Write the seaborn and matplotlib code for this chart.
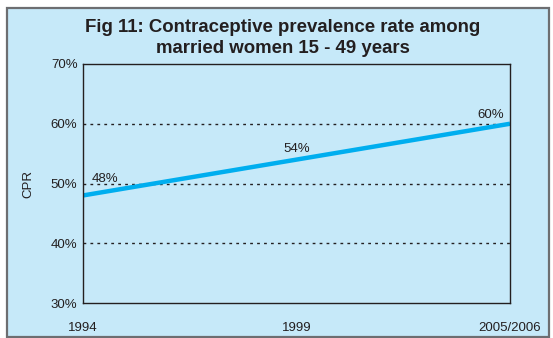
import matplotlib
matplotlib.use("Agg")
import matplotlib.pyplot as plt
import seaborn as sns
import pandas as pd
from matplotlib.patches import Rectangle

years = ["1994", "1999", "2005/2006"]
cpr = [48, 54, 60]
value_labels = ["48%", "54%", "60%"]
y_ticks = [30, 40, 50, 60, 70]
y_tick_labels = ["30%", "40%", "50%", "60%", "70%"]

sns.set_theme(style="white")
plt.rcParams["font.family"] = ["Liberation Sans", "DejaVu Sans"]

bg = "#c6e9f9"
text_col = "#231f20"

df = pd.DataFrame({"year": years, "cpr": cpr, "pos": range(len(years))})

fig = plt.figure(figsize=(5.53, 3.38), dpi=100)
fig.patch.set_facecolor("white")
# framed panel behind everything
fig.add_artist(Rectangle((7 / 553, 1 / 338), 542 / 553, 329 / 338,
                         transform=fig.transFigure, facecolor=bg,
                         edgecolor="#6d6e71", linewidth=1.6, zorder=-1))

ax = fig.add_axes([83 / 553, 35 / 338, 427 / 553, 239 / 338])
ax.set_facecolor(bg)

sns.lineplot(data=df, x="pos", y="cpr", ax=ax, color="#00aeef",
             linewidth=3.2, solid_capstyle="butt")

ax.set_xlim(0, len(years) - 1)
ax.set_ylim(30, 70)
ax.set_yticks(y_ticks)
ax.set_yticklabels(y_tick_labels, fontsize=9.5, color=text_col)
ax.set_xticks(range(len(years)))
ax.set_xticklabels(years, fontsize=9.5, color=text_col)
ax.tick_params(axis="x", length=0, pad=14)
ax.tick_params(axis="y", length=0, pad=4)
ax.set_xlabel("")
ax.set_ylabel("CPR", fontsize=9.5, color=text_col, labelpad=12)

for v in [40, 50, 60]:
    ax.axhline(v, color="#231f20", linestyle=(0, (2, 3)), linewidth=1.0, zorder=1)

for s in ax.spines.values():
    s.set_visible(True)
    s.set_color("#231f20")
    s.set_linewidth(1.0)

# label offsets in points (x, y) from each data point, centred text
offsets = [(16, 12), (0, 7.5), (-14, 6)]
for i, (val, lab) in enumerate(zip(cpr, value_labels)):
    dx, dy = offsets[i]
    ax.annotate(lab, (i, val), xytext=(dx, dy), textcoords="offset points",
                ha="center", va="center", fontsize=9.5, color=text_col)

fig.text(283 / 553, 1 - 38 / 338,
         "Fig 11: Contraceptive prevalence rate among\nmarried women 15 - 49 years",
         ha="center", va="center", fontsize=13.4, fontweight="bold",
         color=text_col, linespacing=1.25)

fig.savefig("out.png", dpi=100, facecolor=fig.get_facecolor())
